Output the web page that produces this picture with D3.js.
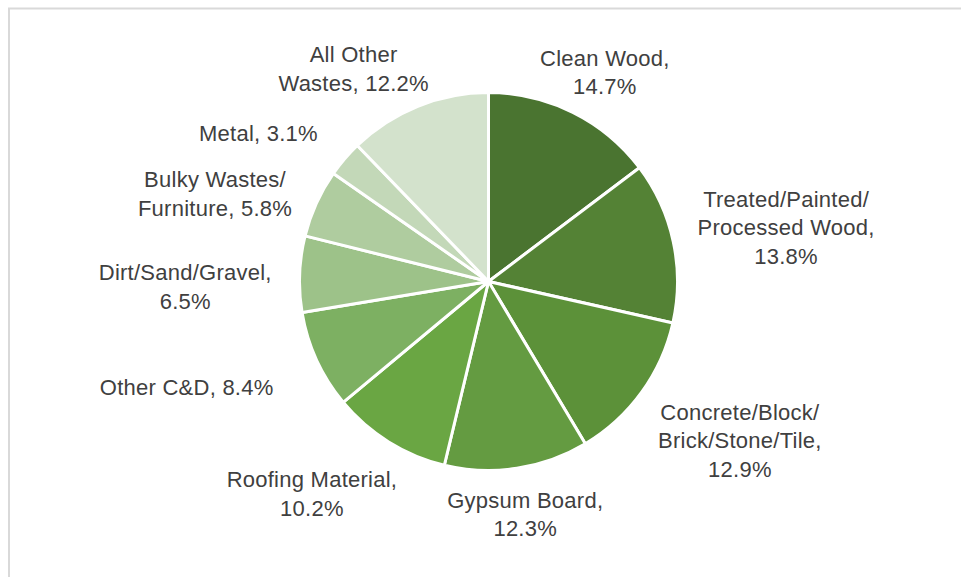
<!DOCTYPE html>
<html>
<head>
<meta charset="utf-8">
<script src="https://cdn.jsdelivr.net/npm/d3@7/dist/d3.min.js"></script>
<style>
  html, body { margin: 0; padding: 0; background: #ffffff; }
  svg { display: block; }
  .lbl { font-family: "Liberation Sans", Arial, sans-serif; font-size: 22px; letter-spacing: 0.25px; fill: #404040; }
</style>
</head>
<body>
<svg id="chart" width="961" height="577"></svg>
<script>
// Waste categories, clockwise from 12 o'clock
const categories = [
  "Clean Wood", "Treated/Painted/Processed Wood", "Concrete/Block/Brick/Stone/Tile",
  "Gypsum Board", "Roofing Material", "Other C&D", "Dirt/Sand/Gravel",
  "Bulky Wastes/Furniture", "Metal", "All Other Wastes"
];
// Share of total (percent)
const shares = [14.7, 13.8, 12.9, 12.3, 10.2, 8.4, 6.5, 5.8, 3.1, 12.2];
// Label text, one entry per line
const labelLines = [
  ["Clean Wood,", "14.7%"],
  ["Treated/Painted/", "Processed Wood,", "13.8%"],
  ["Concrete/Block/", "Brick/Stone/Tile,", "12.9%"],
  ["Gypsum Board,", "12.3%"],
  ["Roofing Material,", "10.2%"],
  ["Other C&D, 8.4%"],
  ["Dirt/Sand/Gravel,", "6.5%"],
  ["Bulky Wastes/", "Furniture, 5.8%"],
  ["Metal, 3.1%"],
  ["All Other", "Wastes, 12.2%"]
];
const sliceColors = ["#4a7430", "#548235", "#5c9139", "#649b41", "#6aa643",
                     "#7db062", "#9dc289", "#afcc9f", "#c3d8b8", "#d3e2cc"];
// Label layout: distance from rim to the label's near edge, plus a hand nudge
const labelGap = [16, 30, 36, 17, 41, 55, 28, 31, 46, 16];
const labelNudge = [[-4, 0], [-3, 1], [3, 2], [-6, 1], [-10, -7],
                    [-1, -2], [0, 15], [-3, 15], [-6, 14], [-30, 4]];

const svg = d3.select("#chart");
const cx = 488.5, cy = 281.5, radius = 189;
const lineH = 28.5;

// chart frame (left and top edges visible)
svg.append("rect")
  .attr("x", 9).attr("y", 8.5)
  .attr("width", 1200).attr("height", 1200)
  .attr("fill", "none")
  .attr("stroke", "#d9d9d9")
  .attr("stroke-width", 2);

const data = categories.map((c, i) => ({ name: c, value: shares[i], lines: labelLines[i], i }));

const pie = d3.pie().sort(null).value(d => d.value);
const arc = d3.arc().innerRadius(0).outerRadius(radius);
const arcs = pie(data);

const g = svg.append("g").attr("transform", `translate(${cx},${cy})`);

g.selectAll("path.slice")
  .data(arcs)
  .join("path")
  .attr("class", "slice")
  .attr("d", arc)
  .attr("fill", d => sliceColors[d.data.i])
  .attr("stroke", "#ffffff")
  .attr("stroke-width", 3)
  .attr("stroke-linejoin", "round");

// Labels sit outside the rim, pushed outward along the slice's mid-angle
const labels = g.selectAll("g.lbl-g")
  .data(arcs)
  .join("g")
  .attr("class", "lbl-g");

labels.each(function (d) {
  const grp = d3.select(this);
  const n = d.data.lines.length;
  const txt = grp.append("text").attr("class", "lbl").attr("text-anchor", "middle");
  d.data.lines.forEach((ln, k) => {
    txt.append("tspan")
      .attr("x", 0)
      .attr("y", (k - (n - 1) / 2) * lineH)
      .attr("dy", "0.35em")
      .text(ln);
  });
  const bb = txt.node().getBBox();
  const w = bb.width, h = n * lineH;
  const mid = (d.startAngle + d.endAngle) / 2;
  const ux = Math.sin(mid), uy = -Math.cos(mid);
  const rr = radius + labelGap[d.data.i];
  const [nx, ny] = labelNudge[d.data.i];
  const x = rr * ux + ux * w / 2 + nx;
  const y = rr * uy + uy * h / 2 + ny;
  grp.attr("transform", `translate(${x},${y})`);
});
</script>
</body>
</html>
